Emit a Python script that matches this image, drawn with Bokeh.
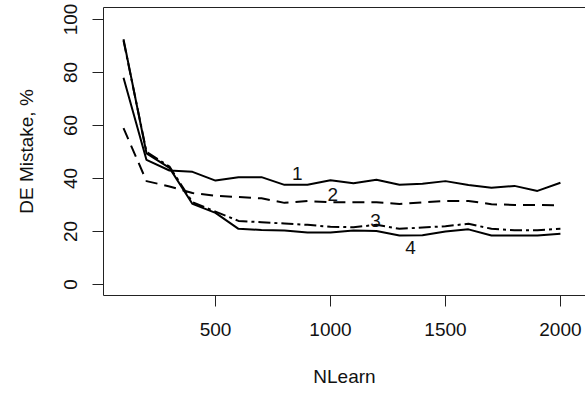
from bokeh.plotting import figure
from bokeh.models import Range1d, LinearAxis, FixedTicker, ColumnDataSource
from bokeh.embed import file_html
from bokeh.resources import INLINE
from bokeh.core.properties import value

nlearn = [100, 200, 300, 400, 500, 600, 700, 800, 900, 1000,
          1100, 1200, 1300, 1400, 1500, 1600, 1700, 1800, 1900, 2000]
err1 = [78, 47, 43, 42.5, 39.2, 40.5, 40.5, 37.6, 37.6, 39.3,
        38.2, 39.5, 37.6, 38, 39, 37.5, 36.5, 37.2, 35.3, 38.4]
err2 = [59, 39, 37, 34.5, 33.5, 33, 32.5, 30.8, 31.5, 31,
        31, 31, 30.4, 31, 31.5, 31.5, 30.3, 30, 30, 29.8]
err3 = [92, 50, 44.5, 31, 27.5, 24, 23.5, 23, 22.5, 21.8,
        21.6, 22.5, 21, 21.5, 22, 22.9, 21, 20.5, 20.5, 21]
err4 = [92.5, 49.5, 44, 30.4, 27, 21, 20.6, 20.4, 19.6, 19.6,
        20.4, 20.2, 18.5, 18.6, 20, 20.8, 18.5, 18.5, 18.5, 19.1]
curve_labels = ["1", "2", "3", "4"]
label_x = [856, 1010, 1196, 1348]
label_y = [41.7, 33.8, 24.3, 13.8]
x_ticks = [500, 1000, 1500, 2000]
y_ticks = [0, 20, 40, 60, 80, 100]

FONT = "Liberation Sans"
FS = "19px"
AX = "#222222"

p = figure(width=585, height=394, output_backend="svg", toolbar_location=None,
           x_range=Range1d(13, 2109), y_range=Range1d(-4.15, 104.5),
           min_border_left=103, min_border_right=0, min_border_top=7,
           min_border_bottom=99, x_axis_label="NLearn",
           y_axis_label="DE Mistake, %")
p.grid.visible = False
p.outline_line_color = None
p.background_fill_color = "white"
p.border_fill_color = "white"

for ax in (p.xaxis[0], p.yaxis[0]):
    ax.axis_line_color = AX
    ax.axis_line_width = 1
    ax.major_tick_line_color = AX
    ax.major_tick_in = 0
    ax.major_tick_out = 11
    ax.minor_tick_line_color = None
    ax.major_label_text_font = FONT
    ax.major_label_text_font_size = FS
    ax.major_label_text_color = "#111111"
    ax.axis_label_text_font = FONT
    ax.axis_label_text_font_size = FS
    ax.axis_label_text_font_style = "normal"
    ax.axis_label_text_color = "#111111"

p.xaxis[0].ticker = FixedTicker(ticks=x_ticks)
p.yaxis[0].ticker = FixedTicker(ticks=y_ticks)
p.xaxis[0].major_label_standoff = 16
p.xaxis[0].axis_label_standoff = 27
p.yaxis[0].major_label_orientation = "vertical"
p.yaxis[0].major_label_standoff = 15
p.yaxis[0].axis_label_standoff = 25

top = LinearAxis(ticker=FixedTicker(ticks=[]), major_label_text_font_size="0px",
                 axis_line_color=AX, axis_line_width=1, major_tick_line_color=None,
                 minor_tick_line_color=None, major_tick_out=0, major_label_standoff=0)
p.add_layout(top, "above")

src = ColumnDataSource(dict(x=nlearn, e1=err1, e2=err2, e3=err3, e4=err4))
p.line("x", "e1", source=src, line_color="black", line_width=2)
p.line("x", "e2", source=src, line_color="black", line_width=2, line_dash="12 7")
p.line("x", "e3", source=src, line_color="black", line_width=2, line_dash="12 4 3 4")
p.line("x", "e4", source=src, line_color="black", line_width=2)

lsrc = ColumnDataSource(dict(x=label_x, y=label_y, t=curve_labels))
p.text("x", "y", text="t", source=lsrc, text_font=value(FONT), text_font_size=FS,
       text_align="center", text_baseline="middle", text_color="#111111")

open("out.html", "w").write(file_html(p, INLINE))
